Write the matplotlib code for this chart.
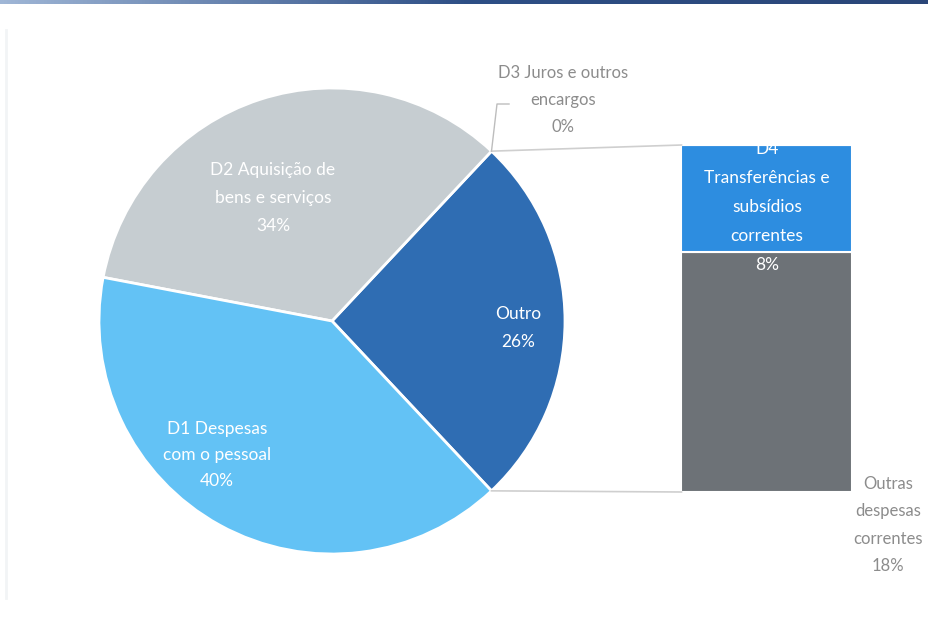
import numpy as np
import matplotlib
matplotlib.use("Agg")
import matplotlib.pyplot as plt

plt.rcParams['font.family'] = ['Lato', 'DejaVu Sans']

# pie part
pie_labels = ["Outro", "D2 Aquisição de\nbens e serviços", "D1 Despesas\ncom o pessoal"]
pie_values = [26, 34, 40]
pie_colors = ["#2F6DB3", "#C6CDD1", "#63C2F5"]

# bar part (breakdown of "Outro")
bar_labels = ["Outras\ndespesas\ncorrentes", "D4\nTransferências e\nsubsídios\ncorrentes", "D3 Juros e outros\nencargos"]
bar_values = [18, 8, 0]
bar_colors = ["#6D7277", "#2D8DE0", "#2F6DB3"]

W, H = 929, 618
fig = plt.figure(figsize=(W / 100, H / 100), dpi=100)
ax = fig.add_axes([0, 0, 1, 1])

# top strip
grad = np.linspace(0, 1, 256).reshape(1, -1)
ax.imshow(grad, extent=[0, W, H - 4, H], cmap=matplotlib.colors.LinearSegmentedColormap.from_list(
    "strip", ["#9FB6D6", "#2E4F86", "#2A4678"]), aspect="auto", zorder=0)
ax.plot([6, 6], [20, H - 30], color="#F2F4F6", lw=2, zorder=0)

cx, cy, r = 332, H - 321, 233
start = -pie_values[0] / 100 * 360 / 2
wedges, _ = ax.pie(pie_values, colors=pie_colors, startangle=start, counterclock=True,
                   center=(cx, cy), radius=r, frame=True,
                   wedgeprops=dict(edgecolor="white", linewidth=2))
ax.set_xlim(0, W)
ax.set_ylim(0, H)
ax.set_aspect("equal")
ax.axis("off")

# bar of pie
bx, bw = 767, 171
bar_bottom = H - 492
scale = 347 / sum(bar_values)
bottom = bar_bottom
for v, c in zip(bar_values, bar_colors):
    ax.bar(bx, v * scale, width=bw, bottom=bottom, color=c, edgecolor="white", linewidth=1.5)
    bottom += v * scale
bar_top = bottom

# connector lines
a1 = np.deg2rad(-start)
a0 = np.deg2rad(start)
ax.plot([cx + r * np.cos(a1), bx - bw / 2], [cy + r * np.sin(a1), bar_top], color="#CFCFCF", lw=1.2)
ax.plot([cx + r * np.cos(a0), bx - bw / 2], [cy + r * np.sin(a0), bar_bottom], color="#CFCFCF", lw=1.2)

fs = 12.5
# pie labels
ax.text(518, H - 328, "Outro\n26%", color="white", fontsize=fs, ha="center", va="center", linespacing=1.95)
ax.text(273, H - 198, pie_labels[1] + "\n34%", color="white", fontsize=fs, ha="center", va="center", linespacing=1.95)
ax.text(217, H - 455, pie_labels[2] + "\n40%", color="white", fontsize=fs, ha="center", va="center", linespacing=1.8)

# bar labels
ax.text(bx, H - 207, bar_labels[1] + "\n8%", color="white", fontsize=fs, ha="center", va="center", linespacing=2.0)
ax.text(888, H - 525, bar_labels[0] + "\n18%", color="#8C8C8C", fontsize=fs - 0.5, ha="center", va="center", linespacing=1.85)
ax.text(563, H - 100, bar_labels[2] + "\n0%", color="#8C8C8C", fontsize=fs - 0.5, ha="center", va="center", linespacing=1.85)

# D3 leader line
px, py = cx + r * np.cos(a1), cy + r * np.sin(a1)
ax.plot([px, 497, 509], [py, H - 104, H - 104], color="#BDBDBD", lw=1)

fig.savefig("out.png", dpi=100)
